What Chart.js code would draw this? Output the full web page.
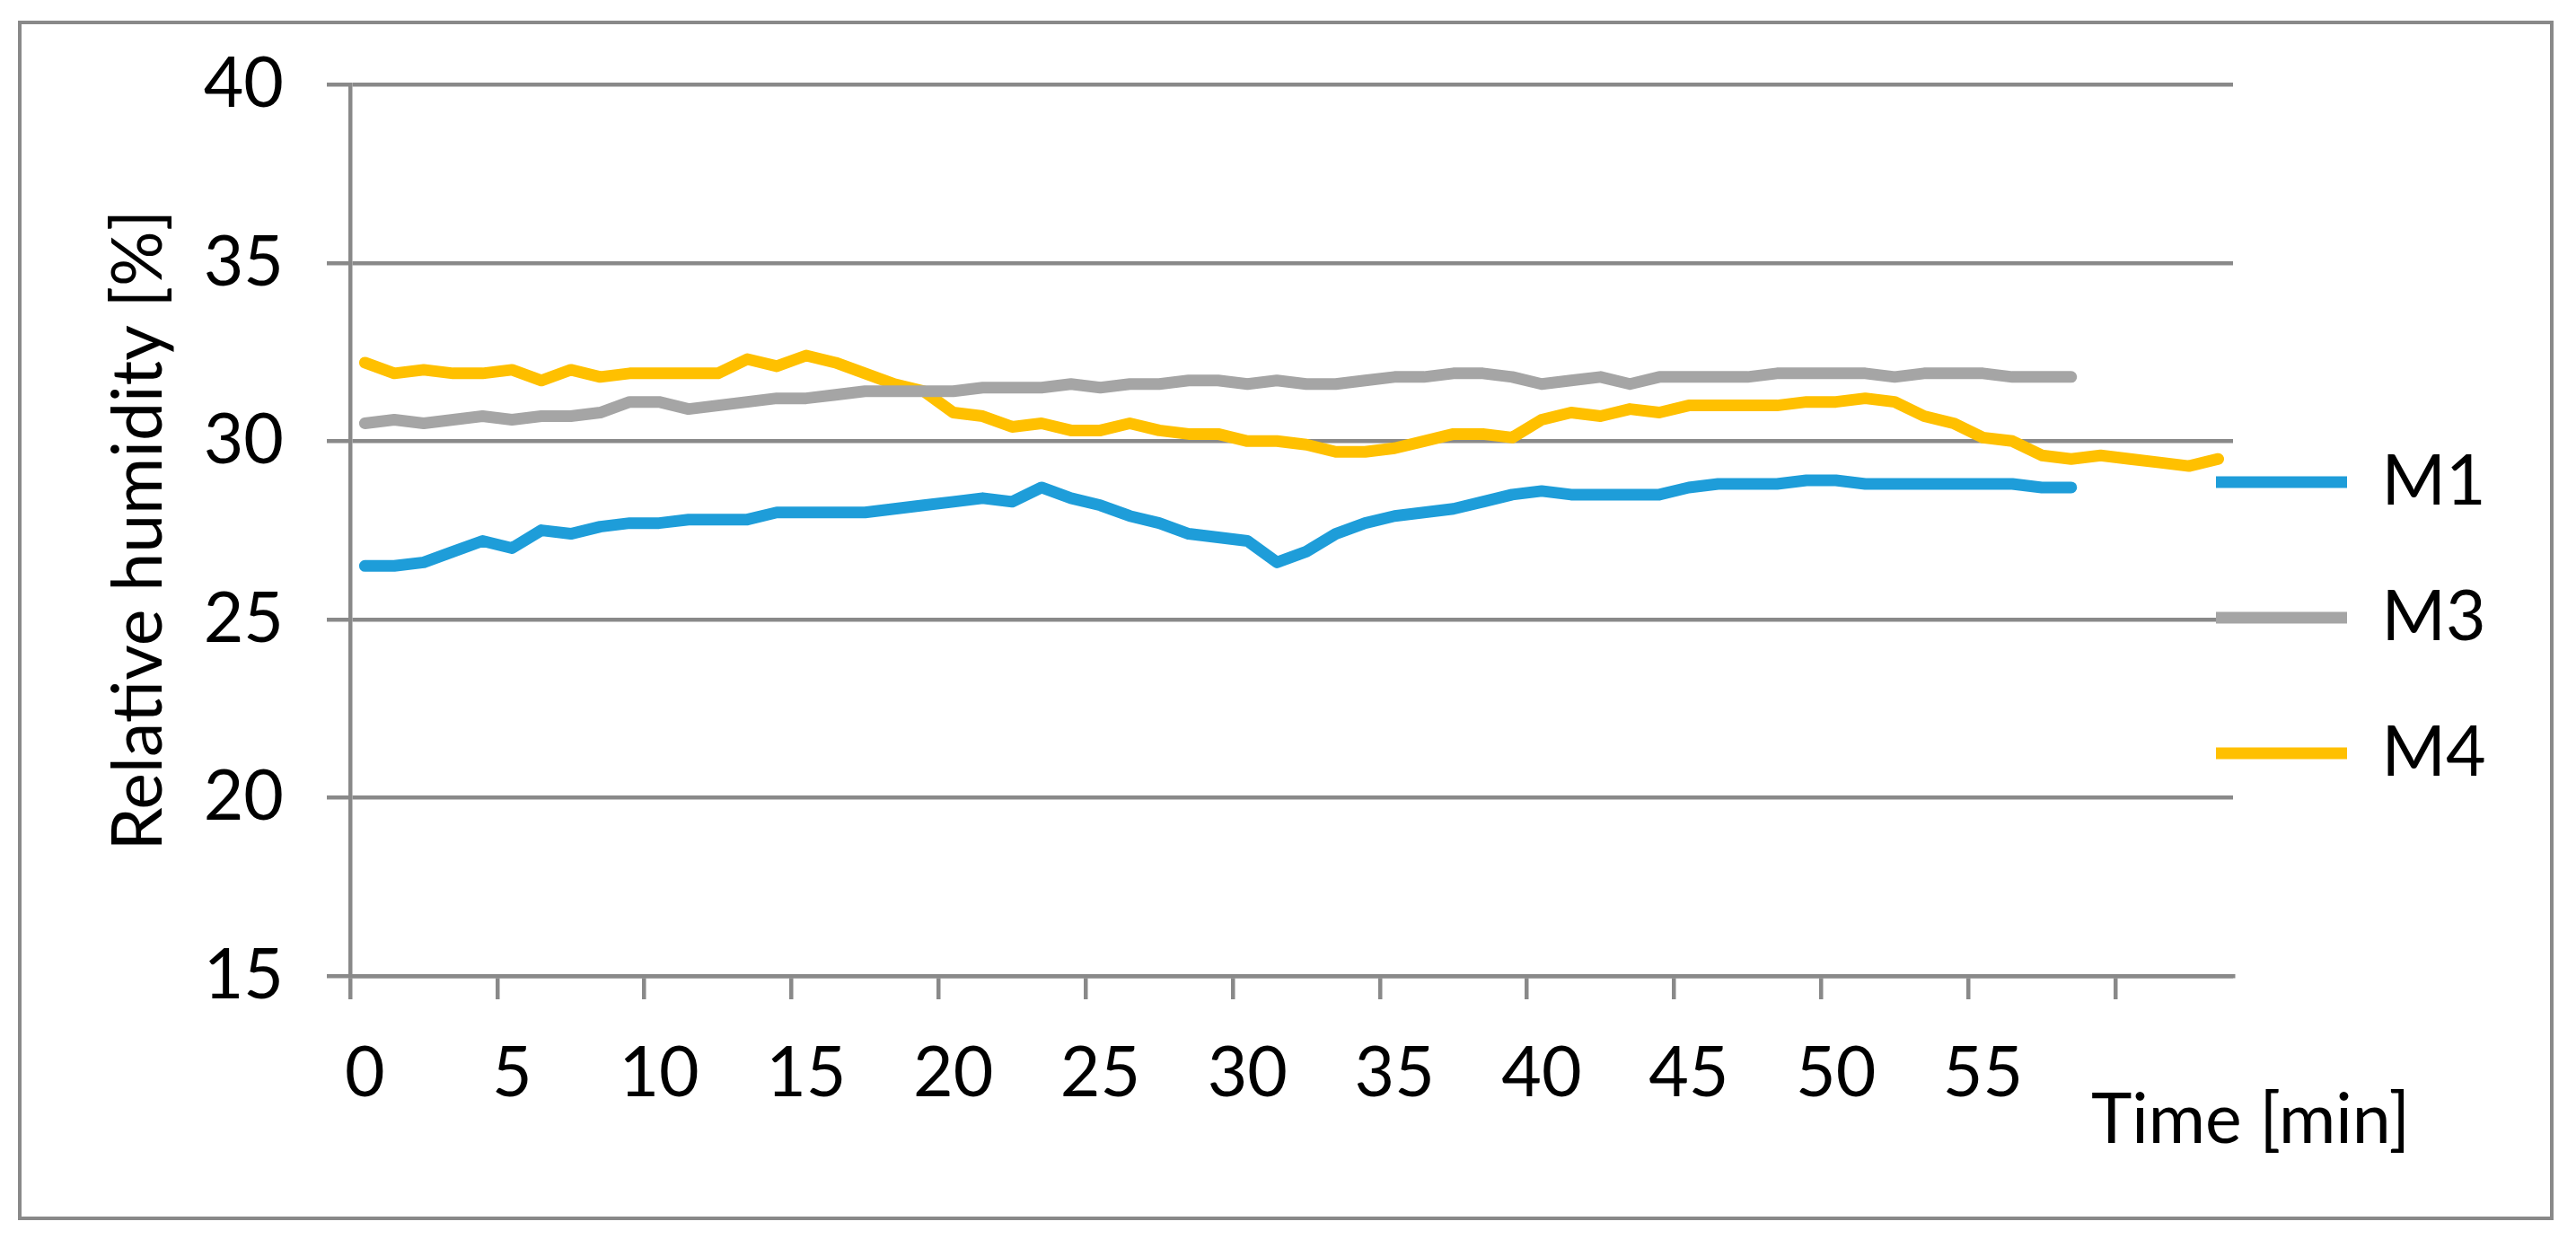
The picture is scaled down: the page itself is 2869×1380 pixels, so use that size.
<!DOCTYPE html>
<html>
<head>
<meta charset="utf-8">
<script src="https://cdn.jsdelivr.net/npm/chart.js@4.4.1/dist/chart.umd.min.js"></script>
<style>
  html, body { margin: 0; padding: 0; background: #ffffff; }
  #wrap { position: relative; width: 2869px; height: 1380px; }
</style>
</head>
<body>
<div id="wrap"><canvas id="c"></canvas></div>
<script>
// ---- data ----
const timeLabels = ["0","1","2","3","4","5","6","7","8","9",
  "10","11","12","13","14","15","16","17","18","19",
  "20","21","22","23","24","25","26","27","28","29",
  "30","31","32","33","34","35","36","37","38","39",
  "40","41","42","43","44","45","46","47","48","49",
  "50","51","52","53","54","55","56","57","58",
  "","","","",""];

const m1Values = [26.5, 26.5, 26.6, 26.9, 27.2, 27.0, 27.5, 27.4, 27.6, 27.7,
  27.7, 27.8, 27.8, 27.8, 28.0, 28.0, 28.0, 28.0, 28.1, 28.2,
  28.3, 28.4, 28.3, 28.7, 28.4, 28.2, 27.9, 27.7, 27.4, 27.3,
  27.2, 26.6, 26.9, 27.4, 27.7, 27.9, 28.0, 28.1, 28.3, 28.5,
  28.6, 28.5, 28.5, 28.5, 28.5, 28.7, 28.8, 28.8, 28.8, 28.9,
  28.9, 28.8, 28.8, 28.8, 28.8, 28.8, 28.8, 28.7, 28.7];

const m3Values = [30.5, 30.6, 30.5, 30.6, 30.7, 30.6, 30.7, 30.7, 30.8, 31.1,
  31.1, 30.9, 31.0, 31.1, 31.2, 31.2, 31.3, 31.4, 31.4, 31.4,
  31.4, 31.5, 31.5, 31.5, 31.6, 31.5, 31.6, 31.6, 31.7, 31.7,
  31.6, 31.7, 31.6, 31.6, 31.7, 31.8, 31.8, 31.9, 31.9, 31.8,
  31.6, 31.7, 31.8, 31.6, 31.8, 31.8, 31.8, 31.8, 31.9, 31.9,
  31.9, 31.9, 31.8, 31.9, 31.9, 31.9, 31.8, 31.8, 31.8];

const m4Values = [32.2, 31.9, 32.0, 31.9, 31.9, 32.0, 31.7, 32.0, 31.8, 31.9,
  31.9, 31.9, 31.9, 32.3, 32.1, 32.4, 32.2, 31.9, 31.6, 31.4,
  30.8, 30.7, 30.4, 30.5, 30.3, 30.3, 30.5, 30.3, 30.2, 30.2,
  30.0, 30.0, 29.9, 29.7, 29.7, 29.8, 30.0, 30.2, 30.2, 30.1,
  30.6, 30.8, 30.7, 30.9, 30.8, 31.0, 31.0, 31.0, 31.0, 31.1,
  31.1, 31.2, 31.1, 30.7, 30.5, 30.1, 30.0, 29.6, 29.5, 29.6,
  29.5, 29.4, 29.3, 29.5];

const seriesNames = ["M1", "M3", "M4"];
const yTitle = "Relative humidity [%]";
const xTitle = "Time [min]";

// ---- styling ----
const GRID = "#898989";
const FONT = "Lato";
const FS = 77;
const colors = ["#1E9DD9", "#A5A5A5", "#FFC000"];

const framePlugin = {
  id: "frame",
  afterLayout(chart) {
    const lg = chart.legend;
    if (lg) {
      lg.left = chart.chartArea.right - 93;
      lg.width = 460;
      lg.right = lg.left + lg.width;
    }
  },
  beforeDraw(chart) {
    const ctx = chart.ctx;
    ctx.save();
    ctx.fillStyle = "#ffffff";
    ctx.fillRect(0, 0, chart.width, chart.height);
    ctx.restore();
  },
  afterDraw(chart) {
    const ctx = chart.ctx;
    const a = chart.chartArea;
    ctx.save();
    ctx.strokeStyle = GRID;
    ctx.lineWidth = 4;
    ctx.strokeRect(22, 25, 2820, 1332);
    ctx.fillStyle = "#000";
    ctx.font = FS + "px " + FONT;
    ctx.textAlign = "left";
    ctx.textBaseline = "alphabetic";
    ctx.fillText(xTitle, a.right - 158, a.bottom + 186);
    ctx.restore();
  }
};

const valueSets = [m1Values, m3Values, m4Values];
const datasets = seriesNames.map((name, k) => ({
  label: name,
  data: valueSets[k],
  borderColor: colors[k],
  backgroundColor: colors[k],
  borderWidth: 13,
  borderCapStyle: "round",
  borderJoinStyle: "round",
  pointRadius: 0,
  pointHoverRadius: 0,
  tension: 0,
  fill: false
}));

new Chart(document.getElementById("c"), {
  type: "line",
  data: { labels: timeLabels, datasets },
  plugins: [framePlugin],
  options: {
    responsive: true,
    maintainAspectRatio: false,
    animation: false,
    devicePixelRatio: 1,
    font: { family: FONT, size: FS },
    layout: { padding: { left: 0, right: 82, top: 90, bottom: 94 } },
    plugins: {
      tooltip: { enabled: false },
      legend: {
        position: "right",
        align: "center",
        maxWidth: 300,
        labels: {
          usePointStyle: true,
          pointStyle: "line",
          pointStyleWidth: 146,
          padding: 74,
          color: "#000",
          font: { family: FONT, size: FS }
        }
      }
    },
    scales: {
      x: {
        type: "category",
        offset: true,
        grid: {
          offset: true,
          drawOnChartArea: false,
          drawTicks: true,
          tickLength: 26,
          lineWidth: 4.5,
          color: (c) => (c.index !== undefined && c.index % 5 === 0) ? GRID : "rgba(0,0,0,0)"
        },
        border: { display: true, color: GRID, width: 4.5 },
        ticks: {
          autoSkip: false,
          maxRotation: 0,
          minRotation: 0,
          padding: 37,
          color: "#000",
          font: { family: FONT, size: FS },
          callback: function (v, i) { return i % 5 === 0 ? this.getLabelForValue(v) : ""; }
        },
        afterFit(s) { s.height = 199; }
      },
      y: {
        min: 15,
        max: 40,
        ticks: { stepSize: 5, padding: 48, color: "#000", font: { family: FONT, size: FS } },
        grid: { color: GRID, lineWidth: 4.5, tickLength: 26 },
        border: { display: true, color: GRID, width: 4.5 },
        title: {
          display: true,
          text: yTitle,
          color: "#000",
          font: { family: FONT, size: FS },
          padding: { top: 109, bottom: 0 }
        },
        afterFit(s) { s.width = 390; }
      }
    }
  }
});
</script>
</body>
</html>
